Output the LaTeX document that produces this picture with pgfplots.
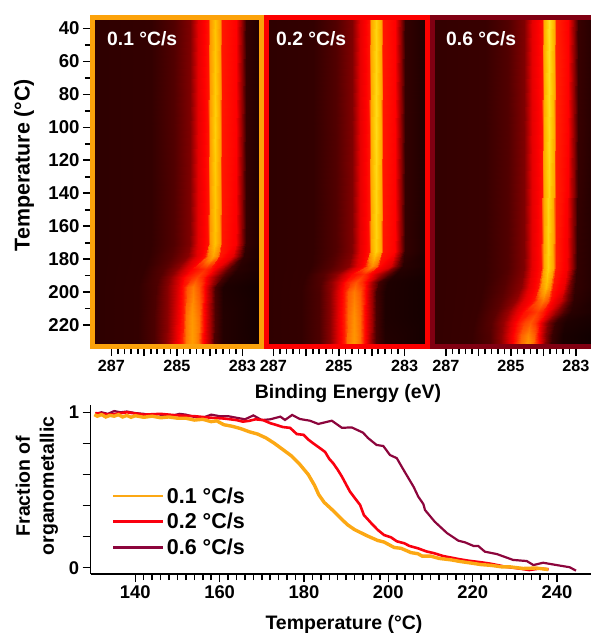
\documentclass[border=0pt]{standalone}
\usepackage{pgfplots}
\pgfplotsset{compat=1.18}
\usepackage{fontspec}
\setmainfont{Liberation Sans}
\definecolor{forange}{RGB}{252,162,10}
\definecolor{fred}{RGB}{252,0,0}
\definecolor{fmaroon}{RGB}{128,0,18}
\definecolor{corange}{RGB}{252,168,20}
\definecolor{cred}{RGB}{250,0,15}
\definecolor{cmaroon}{RGB}{140,5,60}
\newcommand{\fs}[1]{\fontsize{#1}{#1}\selectfont\bfseries}
\pgfplotsset{
  colormap={xps}{rgb255(0)=(0,0,0) rgb255(50)=(255,0,0) rgb255(75)=(255,140,0) rgb255(90)=(255,195,0) rgb255(100)=(255,225,30)},
  panel/.style={
    scale only axis, width=#1, height=329pt, anchor=south west,
    x dir=reverse, y dir=reverse, enlargelimits=false, axis on top,
    ymin=33.3, ymax=233.05, point meta min=0, point meta max=1,
    xtick={283,284,285,286,287}, xticklabels={283,,285,,287}, minor x tick num=4,
    xtick pos=bottom, ytick pos=left, xtick align=outside, ytick align=outside,
    major tick length=9.5pt, minor tick length=7.5pt,
    tick style={black,line width=1.7pt}, minor tick style={black,line width=1.7pt},
    xticklabel style={font=\fs{16.2}, yshift=-1pt},
    ytick={40,60,...,220}, minor y tick num=1,
    yticklabels={40,60,80,100,120,140,160,180,200,220},
    yticklabel style={font=\fs{18.6}},
    xlabel={}, ylabel={}, 
  },
}
\begin{document}
\begin{tikzpicture}[x=1pt,y=1pt]
\path[use as bounding box] (0,0) rectangle (591,633);
\clip (0,0) rectangle (591,633);

\begin{axis}[panel=169pt, at={(92.5pt,286.5pt)}, xmin=282.42, xmax=287.58,
  axis line style={forange,line width=5pt}]
\addplot[surf,shader=interp,mesh/cols=14,point meta=explicit] table[row sep=\\,x index=0,y index=1,meta index=2,header=false]{
287.7 33 .09\\ 285.8 33 .10\\ 285.1 33 .16\\ 284.6 33 .25\\ 284.35 33 .45\\ 284.06 33 .53\\ 283.98 33 .78\\ 283.84 33 .90\\ 283.70 33 .78\\ 283.62 33 .54\\ 283.2 33 .50\\ 283.03 33 .28\\ 282.9 33 .10\\ 282.3 33 .05\\
287.7 100 .09\\ 285.8 100 .10\\ 285.1 100 .16\\ 284.6 100 .25\\ 284.35 100 .45\\ 284.06 100 .53\\ 283.98 100 .80\\ 283.84 100 .94\\ 283.70 100 .80\\ 283.62 100 .54\\ 283.2 100 .50\\ 283.03 100 .28\\ 282.9 100 .10\\ 282.3 100 .05\\
287.7 170 .09\\ 285.8 170 .10\\ 285.1 170 .16\\ 284.6 170 .25\\ 284.35 170 .45\\ 284.06 170 .53\\ 283.98 170 .78\\ 283.84 170 .90\\ 283.70 170 .78\\ 283.62 170 .54\\ 283.2 170 .49\\ 283.03 170 .27\\ 282.9 170 .10\\ 282.3 170 .05\\
287.7 178 .09\\ 285.85 178 .10\\ 285.15 178 .17\\ 284.65 178 .27\\ 284.4 178 .45\\ 284.14 178 .53\\ 284.04 178 .72\\ 283.90 178 .82\\ 283.76 178 .72\\ 283.68 178 .54\\ 283.3 178 .45\\ 283.1 178 .25\\ 282.95 178 .09\\ 282.3 178 .05\\
287.7 186 .09\\ 286.0 186 .10\\ 285.4 186 .17\\ 285.0 186 .28\\ 284.75 186 .42\\ 284.55 186 .50\\ 284.35 186 .54\\ 284.15 186 .58\\ 284.0 186 .54\\ 283.85 186 .48\\ 283.6 186 .32\\ 283.4 186 .17\\ 283.15 186 .08\\ 282.3 186 .05\\
287.7 191 .09\\ 286.1 191 .10\\ 285.55 191 .16\\ 285.2 191 .27\\ 284.95 191 .42\\ 284.75 191 .52\\ 284.55 191 .58\\ 284.38 191 .62\\ 284.2 191 .56\\ 284.05 191 .46\\ 283.8 191 .28\\ 283.6 191 .14\\ 283.35 191 .07\\ 282.3 191 .045\\
287.7 197 .09\\ 286.2 197 .10\\ 285.65 197 .15\\ 285.3 197 .26\\ 285.0 197 .42\\ 284.82 197 .53\\ 284.7 197 .65\\ 284.5 197 .72\\ 284.33 197 .65\\ 284.18 197 .52\\ 283.97 197 .30\\ 283.83 197 .14\\ 283.6 197 .06\\ 282.3 197 .035\\
287.7 215 .09\\ 286.2 215 .10\\ 285.7 215 .15\\ 285.3 215 .27\\ 285.0 215 .45\\ 284.82 215 .55\\ 284.72 215 .70\\ 284.53 215 .78\\ 284.34 215 .70\\ 284.22 215 .54\\ 283.98 215 .33\\ 283.85 215 .15\\ 283.6 215 .07\\ 282.3 215 .035\\
287.7 234 .09\\ 286.2 234 .10\\ 285.7 234 .15\\ 285.35 234 .27\\ 285.05 234 .45\\ 284.85 234 .56\\ 284.74 234 .72\\ 284.55 234 .80\\ 284.36 234 .72\\ 284.24 234 .55\\ 284.0 234 .33\\ 283.87 234 .15\\ 283.6 234 .07\\ 282.3 234 .04\\
};
\end{axis}

\begin{axis}[panel=161pt, at={(266.5pt,286.5pt)}, xmin=282.30, xmax=287.21, ytick=\empty, minor ytick=\empty,
  axis line style={fred,line width=5pt}]
\addplot[surf,shader=interp,mesh/cols=14,point meta=explicit] table[row sep=\\,x index=0,y index=1,meta index=2,header=false]{
287.4 33 .09\\ 285.8 33 .10\\ 285.1 33 .16\\ 284.6 33 .25\\ 284.35 33 .45\\ 284.09 33 .53\\ 284.01 33 .82\\ 283.87 33 .95\\ 283.73 33 .82\\ 283.65 33 .54\\ 283.3 33 .50\\ 283.12 33 .28\\ 283.0 33 .10\\ 282.2 33 .05\\
287.4 100 .09\\ 285.8 100 .10\\ 285.1 100 .16\\ 284.6 100 .25\\ 284.35 100 .45\\ 284.09 100 .53\\ 284.01 100 .84\\ 283.87 100 .98\\ 283.73 100 .84\\ 283.65 100 .54\\ 283.3 100 .50\\ 283.12 100 .28\\ 283.0 100 .10\\ 282.2 100 .05\\
287.4 175 .09\\ 285.8 175 .10\\ 285.1 175 .16\\ 284.6 175 .25\\ 284.35 175 .45\\ 284.09 175 .53\\ 284.01 175 .82\\ 283.87 175 .95\\ 283.73 175 .82\\ 283.65 175 .54\\ 283.3 175 .50\\ 283.12 175 .28\\ 283.0 175 .10\\ 282.2 175 .05\\
287.4 184 .09\\ 285.85 184 .10\\ 285.2 184 .17\\ 284.7 184 .27\\ 284.45 184 .44\\ 284.22 184 .53\\ 284.12 184 .68\\ 283.98 184 .76\\ 283.85 184 .68\\ 283.77 184 .52\\ 283.42 184 .42\\ 283.22 184 .22\\ 283.05 184 .08\\ 282.2 184 .05\\
287.4 189 .09\\ 286.0 189 .10\\ 285.45 189 .17\\ 285.05 189 .28\\ 284.8 189 .43\\ 284.6 189 .51\\ 284.42 189 .54\\ 284.25 189 .58\\ 284.1 189 .54\\ 283.95 189 .47\\ 283.68 189 .30\\ 283.45 189 .15\\ 283.25 189 .07\\ 282.2 189 .045\\
287.4 194 .09\\ 286.1 194 .10\\ 285.55 194 .16\\ 285.25 194 .28\\ 284.98 194 .43\\ 284.8 194 .54\\ 284.63 194 .60\\ 284.47 194 .65\\ 284.3 194 .58\\ 284.15 194 .48\\ 283.92 194 .27\\ 283.78 194 .13\\ 283.5 194 .06\\ 282.2 194 .04\\
287.4 200 .09\\ 286.15 200 .10\\ 285.6 200 .15\\ 285.28 200 .27\\ 285.03 200 .44\\ 284.85 200 .54\\ 284.72 200 .66\\ 284.53 200 .72\\ 284.35 200 .66\\ 284.22 200 .52\\ 284.0 200 .30\\ 283.87 200 .13\\ 283.6 200 .06\\ 282.2 200 .04\\
287.4 215 .09\\ 286.15 215 .10\\ 285.6 215 .15\\ 285.28 215 .27\\ 285.03 215 .45\\ 284.85 215 .55\\ 284.73 215 .69\\ 284.54 215 .76\\ 284.35 215 .69\\ 284.23 215 .54\\ 284.0 215 .31\\ 283.87 215 .14\\ 283.6 215 .06\\ 282.2 215 .04\\
287.4 234 .09\\ 286.15 234 .10\\ 285.6 234 .15\\ 285.28 234 .27\\ 285.03 234 .45\\ 284.85 234 .55\\ 284.74 234 .70\\ 284.55 234 .78\\ 284.36 234 .70\\ 284.24 234 .54\\ 284.02 234 .31\\ 283.88 234 .14\\ 283.6 234 .07\\ 282.2 234 .04\\
};
\end{axis}

\begin{axis}[panel=161pt, at={(432.5pt,286.5pt)}, xmin=282.46, xmax=287.415, ytick=\empty, minor ytick=\empty,
  axis line style={fmaroon,line width=5pt}]
\addplot[surf,shader=interp,mesh/cols=14,point meta=explicit] table[row sep=\\,x index=0,y index=1,meta index=2,header=false]{
287.5 33 .10\\ 285.8 33 .11\\ 285.1 33 .16\\ 284.6 33 .25\\ 284.35 33 .45\\ 284.05 33 .53\\ 283.97 33 .84\\ 283.83 33 1\\ 283.69 33 .84\\ 283.6 33 .56\\ 283.25 33 .50\\ 283.07 33 .28\\ 282.95 33 .11\\ 282.3 33 .06\\
287.5 100 .10\\ 285.8 100 .11\\ 285.1 100 .16\\ 284.6 100 .25\\ 284.35 100 .45\\ 284.05 100 .53\\ 283.97 100 .84\\ 283.83 100 .98\\ 283.69 100 .84\\ 283.6 100 .56\\ 283.25 100 .50\\ 283.07 100 .28\\ 282.95 100 .11\\ 282.3 100 .06\\
287.5 185 .10\\ 285.8 185 .11\\ 285.1 185 .16\\ 284.6 185 .25\\ 284.35 185 .45\\ 284.07 185 .53\\ 283.99 185 .82\\ 283.85 185 .95\\ 283.71 185 .82\\ 283.62 185 .55\\ 283.28 185 .48\\ 283.1 185 .27\\ 282.97 185 .10\\ 282.3 185 .06\\
287.5 197 .10\\ 285.85 197 .11\\ 285.2 197 .17\\ 284.7 197 .27\\ 284.45 197 .45\\ 284.16 197 .53\\ 284.07 197 .76\\ 283.93 197 .88\\ 283.79 197 .76\\ 283.7 197 .54\\ 283.38 197 .46\\ 283.2 197 .25\\ 283.03 197 .10\\ 282.3 197 .06\\
287.5 205 .10\\ 285.95 205 .11\\ 285.3 205 .18\\ 284.85 205 .29\\ 284.6 205 .45\\ 284.3 205 .53\\ 284.17 205 .66\\ 284.02 205 .72\\ 283.87 205 .66\\ 283.78 205 .52\\ 283.45 205 .40\\ 283.25 205 .20\\ 283.05 205 .09\\ 282.3 205 .05\\
287.5 212 .10\\ 286.05 212 .11\\ 285.45 212 .18\\ 285.1 212 .30\\ 284.85 212 .44\\ 284.6 212 .53\\ 284.4 212 .56\\ 284.2 212 .61\\ 284.03 212 .56\\ 283.9 212 .49\\ 283.6 212 .30\\ 283.38 212 .15\\ 283.15 212 .08\\ 282.3 212 .05\\
287.5 219 .10\\ 286.15 219 .11\\ 285.6 219 .17\\ 285.25 219 .29\\ 285.0 219 .44\\ 284.78 219 .54\\ 284.6 219 .62\\ 284.42 219 .66\\ 284.25 219 .60\\ 284.1 219 .48\\ 283.85 219 .24\\ 283.65 219 .11\\ 283.35 219 .06\\ 282.3 219 .04\\
287.5 226 .10\\ 286.2 226 .11\\ 285.65 226 .16\\ 285.3 226 .28\\ 285.05 226 .44\\ 284.85 226 .55\\ 284.68 226 .67\\ 284.48 226 .74\\ 284.3 226 .67\\ 284.16 226 .52\\ 283.93 226 .25\\ 283.75 226 .11\\ 283.4 226 .05\\ 282.3 226 .03\\
287.5 234 .10\\ 286.2 234 .11\\ 285.65 234 .16\\ 285.3 234 .28\\ 285.05 234 .44\\ 284.87 234 .56\\ 284.7 234 .71\\ 284.5 234 .80\\ 284.32 234 .71\\ 284.18 234 .55\\ 283.95 234 .27\\ 283.77 234 .11\\ 283.4 234 .05\\ 282.3 234 .03\\
};
\end{axis}

\begin{axis}[scale only axis, width=504.3pt, height=169pt, at={(90.7pt,59pt)}, anchor=south west,
  xmin=129.43, xmax=249, ymin=-0.0405, ymax=1.047,
  axis x line*=bottom, axis y line*=left, axis line style={black,line width=1.4pt},
  xtick={140,160,...,240}, minor x tick num=9,
  xticklabels={140,160,180,200,220,240},
  ytick={0,0.2,0.4,0.6,0.8,1}, yticklabels={0,,,,,1},
  xtick align=outside, ytick align=outside, major tick length=8pt, minor tick length=6pt,
  tick style={black,line width=1.5pt}, minor tick style={black,line width=1.5pt},
  tick label style={font=\fs{18.4}},
  reverse legend, legend cell align=left,
  legend style={at={(0.0380,0.083)},anchor=south west,draw=none,fill=none,font=\fs{21.5},row sep=4.5pt,inner sep=2pt},
  legend image post style={line width=2.8pt},
  legend image code/.code={\draw[#1] (0pt,0pt) -- (40pt,0pt); \path (0pt,0pt) -- (50pt,0pt);},
]
\addplot[cmaroon,line width=2.2pt] coordinates {
(130.5,.99)(132,1.0)(133.5,.99)(135,1.008)(136.5,1.0)(138,1.005)(140,.995)(142,.99)(144,.98)(145.5,.97)(147,.985)(149,.98)(150.5,.99)(152,.985)(154,.97)(156,.965)(158,.985)(160,.975)(162,.975)(164,.965)(166,.955)(168,.98)(170,.95)(172,.955)(174.4,.972)(175.5,.951)(177.2,.983)(179,.957)(181.4,.946)(183.4,.925)(184.6,.933)(186.6,.946)(189,.90)(191.3,.903)(194,.869)(195.2,.834)(197.2,.79)(198.8,.783)(200.4,.725)(202,.705)(203.6,.63)(206,.52)(207.1,.457)(208.3,.41)(208.7,.371)(211,.296)(213.9,.223)(216.6,.174)(218.2,.163)(220.2,.14)(221.3,.14)(222.9,.103)(225.7,.088)(229.6,.05)(232.8,.043)(234.4,.017)(236.7,.032)(239.9,.017)(243,.003)(244.5,-.019)
};
\addlegendentry{0.6 °C/s}
\addplot[cred,line width=2.6pt] coordinates {
(130.5,.995)(134,.985)(138,1.0)(142,.985)(146,.99)(150,.98)(154,.975)(158,.965)(161,.96)(164,.95)(165.5,.94)(167,.945)(168.5,.955)(170.3,.95)(172,.93)(173.5,.918)(175,.905)(176.7,.9)(178.3,.86)(179.9,.855)(181,.825)(182.2,.80)(183.5,.775)(185,.745)(186,.70)(186.9,.673)(188,.63)(189,.586)(190,.535)(190.9,.49)(192,.45)(193.3,.404)(194.2,.339)(196,.285)(197.5,.243)(199,.21)(200.6,.196)(202,.17)(203.8,.157)(205,.14)(207,.125)(209,.105)(210.9,.093)(213,.075)(216.6,.056)(219,.045)(222,.035)(224.4,.025)(228,.005)(231,-.005)(233.4,-.015)(236,-.005)(238,-.01)
};
\addlegendentry{0.2 °C/s}
\addplot[corange,line width=3.4pt] coordinates {
(130.3,.985)(131,.975)(132,.985)(133,.97)(134,.98)(135,.975)(136,.985)(137,.97)(138,.98)(139,.968)(140,.978)(142,.968)(144,.975)(146,.965)(148,.97)(150,.962)(152,.962)(154,.95)(156,.955)(158,.94)(159.3,.945)(161,.92)(163,.91)(165,.895)(167,.875)(169,.86)(171,.835)(173,.80)(175,.76)(177,.72)(179,.665)(181,.60)(182.5,.53)(183.5,.47)(184.8,.42)(187,.365)(189,.31)(190.4,.275)(192,.245)(193.5,.225)(195,.205)(197.5,.175)(199,.165)(201.4,.13)(203,.125)(205.4,.097)(207,.09)(208,.075)(210,.075)(212,.06)(215,.05)(217,.04)(219.6,.03)(222,.02)(224.4,.015)(227,.005)(229,.005)(232,-.005)(235,-.002)(237.9,-.012)
};
\addlegendentry{0.1 °C/s}
\end{axis}

\node[white,anchor=west,inner sep=0pt,font=\fs{19.3}] at (107,594) {0.1 °C/s};
\node[white,anchor=west,inner sep=0pt,font=\fs{19.3}] at (276,594) {0.2 °C/s};
\node[white,anchor=west,inner sep=0pt,font=\fs{19.3}] at (446,594) {0.6 °C/s};
\node[rotate=90,inner sep=0pt,font=\fs{21.4}] at (24,468) {Temperature (°C)};
\node[inner sep=0pt,font=\fs{19.5}] at (348,239) {Binding Energy (eV)};
\node[rotate=90,inner sep=0pt,font=\fs{19.5}] at (23,147) {Fraction of};
\node[rotate=90,inner sep=0pt,font=\fs{19.5}] at (49,147) {organometallic};
\node[inner sep=0pt,font=\fs{19.5}] at (344,9) {Temperature (°C)};
\end{tikzpicture}
\end{document}
